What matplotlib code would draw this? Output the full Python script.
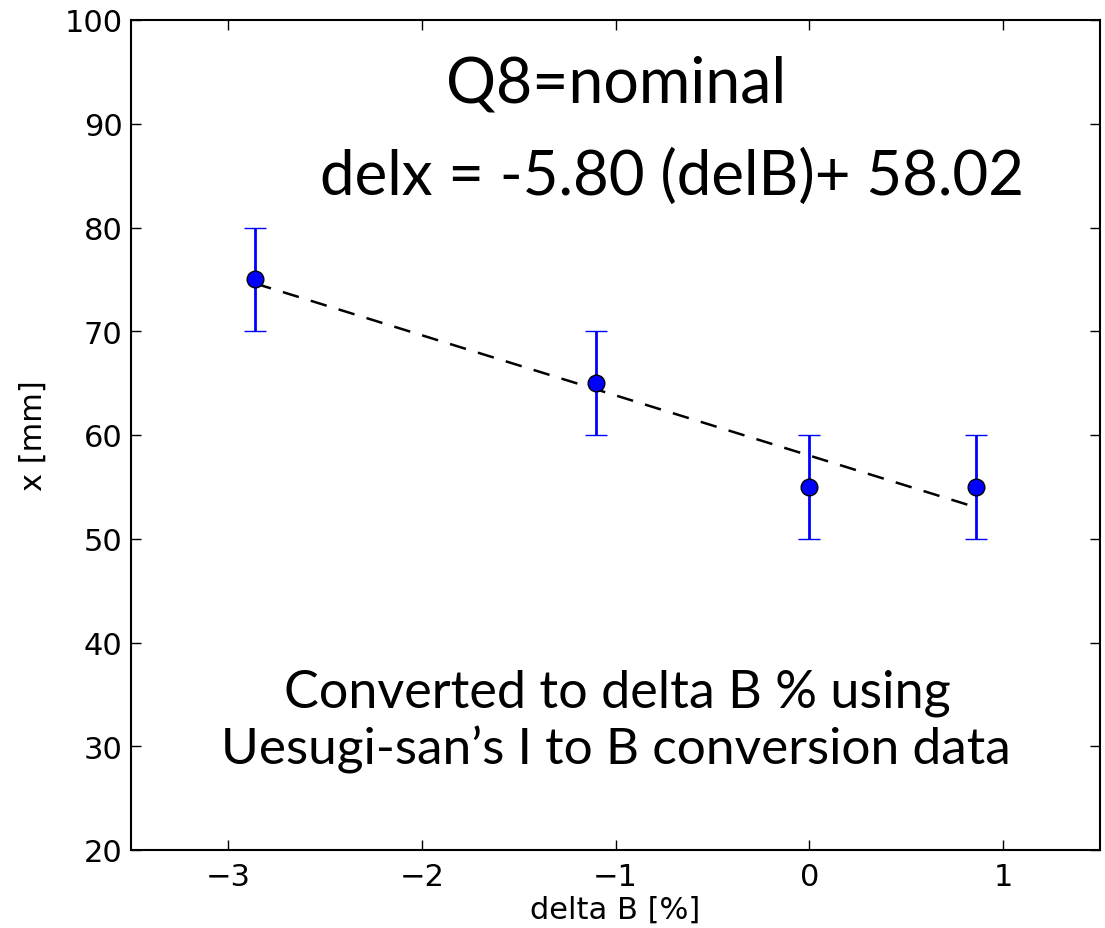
import numpy as np
import matplotlib
matplotlib.use('Agg')
import matplotlib.pyplot as plt

# data
delta_b = [-2.86, -1.10, 0.0, 0.86]
x_mm = [75, 65, 55, 55]
x_err = [5, 5, 5, 5]
fit_slope = -5.80
fit_intercept = 58.02

x_ticks = [-3, -2, -1, 0, 1]
y_ticks = [20, 30, 40, 50, 60, 70, 80, 90, 100]

plt.rcParams['font.family'] = 'DejaVu Sans'
plt.rcParams['lines.scale_dashes'] = False

W, H = 1105, 929
fig = plt.figure(figsize=(W / 100, H / 100), dpi=100)
ax = fig.add_axes([131 / W, 1 - 851 / H, (1100 - 131) / W, (851 - 21) / H])

# fitted line
xf = np.array([delta_b[0], delta_b[-1]])
ax.plot(xf, fit_slope * xf + fit_intercept, color='black', lw=1.8,
        linestyle=(0, (12, 9)), zorder=2)

ax.errorbar(delta_b, x_mm, yerr=x_err, fmt='o', color='blue', ecolor='blue',
            elinewidth=2.0, capsize=8, capthick=1.6, markersize=12,
            markeredgecolor='black', markeredgewidth=1.0, zorder=3)

ax.set_xlim(-3.5, 1.5)
ax.set_ylim(20, 100)
ax.set_xticks(x_ticks)
ax.set_yticks(y_ticks)
ax.set_xticklabels(['\u22123', '\u22122', '\u22121', '0', '1'])
ax.tick_params(direction='in', length=7, width=1, labelsize=22,
               top=True, right=True)
ax.tick_params(axis='x', pad=9)
ax.tick_params(axis='y', pad=6)
for s in ax.spines.values():
    s.set_linewidth(1.5)

ax.set_xlabel('delta B [%]', fontsize=22, labelpad=2)
ax.set_ylabel('x [mm]', fontsize=22, labelpad=12)

gill = ['Lato', 'DejaVu Sans']
fig.text(616 / W, 1 - 103 / H, 'Q8=nominal', fontsize=45, family=gill,
         ha='center', va='baseline')
fig.text(672 / W, 1 - 195 / H, 'delx = -5.80 (delB)+ 58.02', fontsize=44.5,
         family=gill, ha='center', va='baseline')
fig.text(617 / W, 1 - 708 / H, 'Converted to delta B % using', fontsize=37.5,
         family=gill, ha='center', va='baseline')
fig.text(616 / W, 1 - 765 / H, 'Uesugi-san\u2019s I to B conversion data',
         fontsize=37, family=gill, ha='center', va='baseline')

fig.savefig('out.png', dpi=100)
